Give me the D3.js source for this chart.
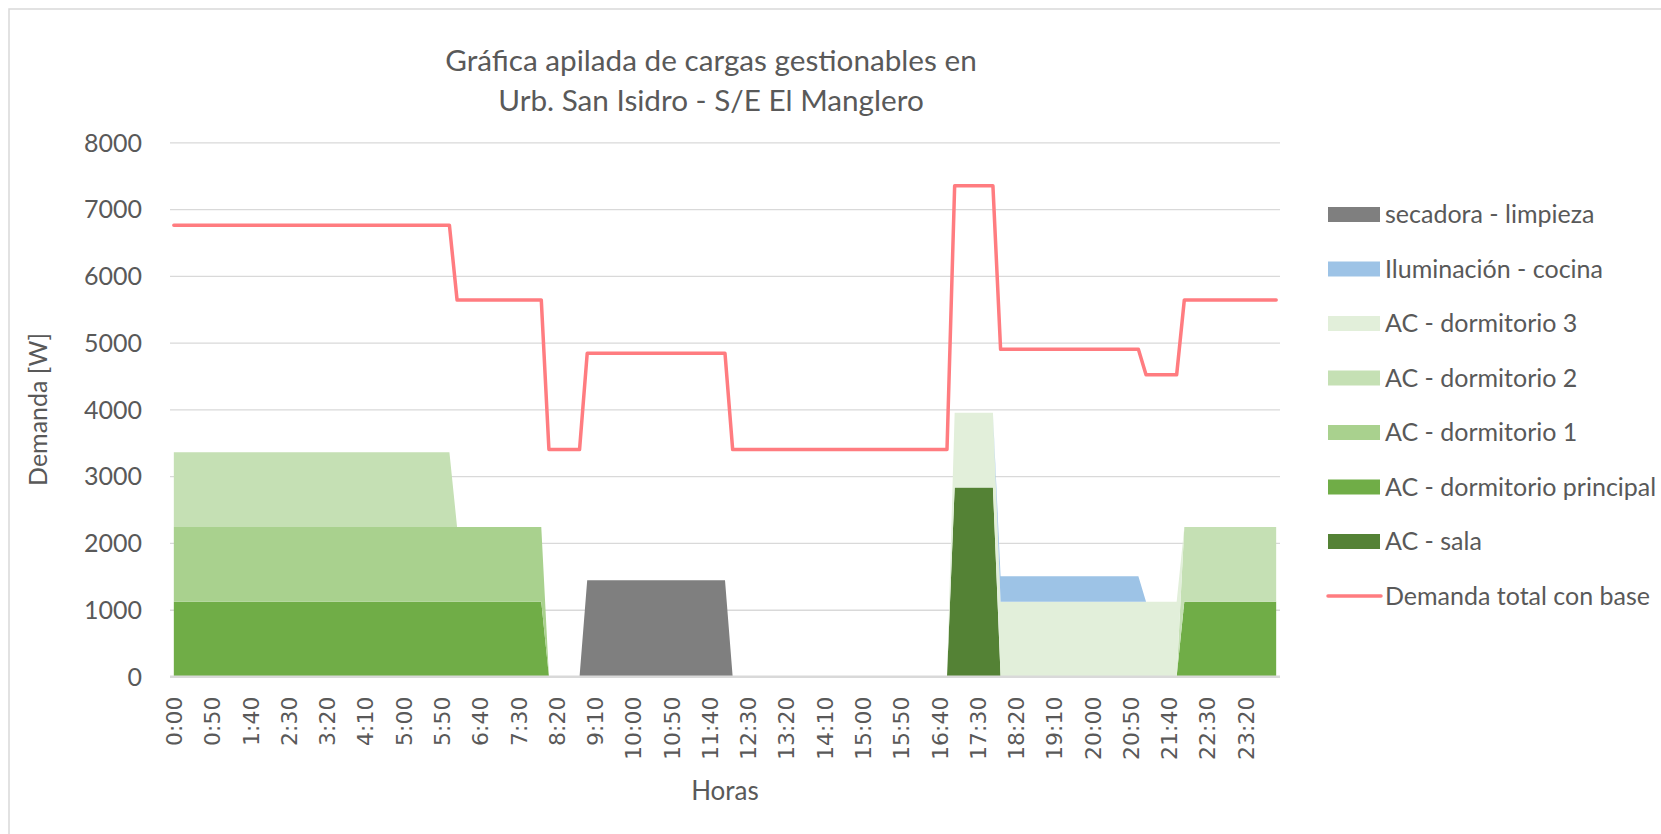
<!DOCTYPE html>
<html>
<head>
<meta charset="utf-8">
<script src="https://cdn.jsdelivr.net/npm/d3@7"></script>
<style>
  body { margin: 0; background: #fff; }
  svg text { font-family: Lato, "Open Sans", sans-serif; fill: #595959; }
  svg .xlab text { font-family: "DejaVu Sans", sans-serif; }
</style>
</head>
<body>
<svg width="1661" height="834"></svg>
<script>
// each series as runs: [number of 10-minute intervals, demand in W], from 0:00 to 24:00 (145 points)
var acSala              = [[102, 0], [6, 2830], [37, 0]];
var acPrincipal         = [[49, 1120], [83, 0], [13, 1120]];
var acDormitorio1       = [[49, 1120], [96, 0]];
var acDormitorio2       = [[37, 1120], [95, 0], [13, 1120]];
var acDormitorio3       = [[102, 0], [30, 1120], [13, 0]];
var iluminacionCocina   = [[108, 0], [19, 380], [18, 0]];
var secadoraLimpieza    = [[54, 0], [19, 1440], [72, 0]];
var demandaTotal        = [[37, 6760], [12, 5640], [5, 3400], [19, 4840], [29, 3400],
                           [6, 7350], [19, 4900], [5, 4520], [13, 5640]];

var yTicks = [0, 1000, 2000, 3000, 4000, 5000, 6000, 7000, 8000];

// stacking order bottom -> top
var keys = ["sala", "principal", "dorm1", "dorm2", "dorm3", "ilum", "secadora"];
var names = {
  sala: "AC - sala",
  principal: "AC - dormitorio principal",
  dorm1: "AC - dormitorio 1",
  dorm2: "AC - dormitorio 2",
  dorm3: "AC - dormitorio 3",
  ilum: "Iluminación - cocina",
  secadora: "secadora - limpieza"
};
var colors = {
  sala: "#548235",
  principal: "#70AD47",
  dorm1: "#A9D18E",
  dorm2: "#C5E0B4",
  dorm3: "#E2EFDA",
  ilum: "#9DC3E6",
  secadora: "#7F7F7F"
};
var lineColor = "#FF7C80";

function expand(runs) {
  var out = [];
  runs.forEach(function(r) {
    for (var k = 0; k < r[0]; k++) out.push(r[1]);
  });
  return out;
}

var seriesValues = {
  sala: expand(acSala),
  principal: expand(acPrincipal),
  dorm1: expand(acDormitorio1),
  dorm2: expand(acDormitorio2),
  dorm3: expand(acDormitorio3),
  ilum: expand(iluminacionCocina),
  secadora: expand(secadoraLimpieza)
};
var total = expand(demandaTotal);

var horas = d3.range(total.length).map(function(i) {
  var m = i * 10;
  return Math.floor(m / 60) + ":" + d3.format("02")(m % 60);
});
var tickLabels = horas.filter(function(h, i) { return i % 5 === 0; });

var rows = horas.map(function(h, i) {
  var row = { hora: h, total: total[i] };
  keys.forEach(function(k) { row[k] = seriesValues[k][i]; });
  return row;
});

var svg = d3.select("svg");

// chart frame
svg.append("rect")
    .attr("x", 9).attr("y", 9)
    .attr("width", 1700).attr("height", 900)
    .attr("fill", "none")
    .attr("stroke", "#D9D9D9")
    .attr("stroke-width", 1.5);

var plotLeft = 170, plotRight = 1280, plotTop = 142.4, plotBottom = 676.5;

var x = d3.scalePoint()
    .domain(horas)
    .range([plotLeft, plotRight])
    .padding(0.5);

var y = d3.scaleLinear()
    .domain([0, 8000])
    .range([plotBottom, plotTop]);

// gridlines
svg.append("g")
    .attr("class", "grid")
    .attr("transform", "translate(" + plotLeft + ",0)")
    .call(d3.axisLeft(y).tickValues(yTicks).tickSize(-(plotRight - plotLeft)).tickFormat(""))
    .call(function(g) { g.select(".domain").remove(); })
    .selectAll("line")
      .attr("stroke", "#D9D9D9")
      .attr("stroke-width", function(d) { return d === 0 ? 2 : 1.3; });

// stacked areas
var stacked = d3.stack().keys(keys)(rows);

var area = d3.area()
    .x(function(d) { return x(d.data.hora); })
    .y0(function(d) { return y(d[0]); })
    .y1(function(d) { return y(d[1]); });

svg.append("g")
    .attr("class", "areas")
  .selectAll("path")
  .data(stacked)
  .enter().append("path")
    .attr("fill", function(d) { return colors[d.key]; })
    .attr("d", area);

// zero line on top of areas
svg.append("line")
    .attr("x1", plotLeft).attr("x2", plotRight)
    .attr("y1", y(0)).attr("y2", y(0))
    .attr("stroke", "#D9D9D9")
    .attr("stroke-width", 2);

// total demand line
var line = d3.line()
    .x(function(d) { return x(d.hora); })
    .y(function(d) { return y(d.total); });

svg.append("path")
    .datum(rows)
    .attr("fill", "none")
    .attr("stroke", lineColor)
    .attr("stroke-width", 3.5)
    .attr("stroke-linejoin", "round")
    .attr("stroke-linecap", "round")
    .attr("d", line);

// y axis
var yAxis = svg.append("g")
    .attr("transform", "translate(" + plotLeft + ",0)")
    .call(d3.axisLeft(y).tickValues(yTicks).tickSize(0).tickPadding(28).tickFormat(d3.format("d")));
yAxis.select(".domain").remove();
yAxis.selectAll("text")
    .style("font-size", "25px")
    .attr("dy", "0.35em");

// x axis
var xAxis = svg.append("g")
    .attr("class", "xlab")
    .attr("transform", "translate(0," + plotBottom + ")")
    .call(d3.axisBottom(x).tickValues(tickLabels).tickSize(0));
xAxis.select(".domain").remove();
xAxis.selectAll("text")
    .attr("transform", "rotate(-90)")
    .attr("text-anchor", "end")
    .attr("x", -20)
    .attr("y", 0)
    .attr("dy", "0.35em")
    .style("font-family", "DejaVu Sans")
    .style("font-size", "22px");

// titles
var title = svg.append("text")
    .attr("text-anchor", "middle")
    .style("font-size", "29.7px");
title.append("tspan").attr("x", 711).attr("y", 71).text("Gráfica apilada de cargas gestionables en");
title.append("tspan").attr("x", 711).attr("y", 111).text("Urb. San Isidro - S/E El Manglero");

svg.append("text")
    .attr("x", (plotLeft + plotRight) / 2)
    .attr("y", 800)
    .attr("text-anchor", "middle")
    .style("font-size", "26px")
    .text("Horas");

svg.append("text")
    .attr("transform", "translate(38," + (plotTop + plotBottom) / 2 + ") rotate(-90)")
    .attr("text-anchor", "middle")
    .attr("dy", "0.35em")
    .style("font-size", "25px")
    .text("Demanda [W]");

// legend (top of stack first)
var legendItems = keys.slice().reverse();
var legend = svg.append("g")
    .attr("class", "legend")
  .selectAll("g")
  .data(legendItems.concat(["total"]))
  .enter().append("g")
    .attr("transform", function(d, i) { return "translate(1328," + (214.5 + i * 54.5) + ")"; });

legend.filter(function(d) { return d !== "total"; })
  .append("rect")
    .attr("x", 0).attr("y", -7.5)
    .attr("width", 52).attr("height", 15)
    .attr("fill", function(d) { return colors[d]; });

legend.filter(function(d) { return d === "total"; })
  .append("line")
    .attr("x1", 0).attr("x2", 53)
    .attr("stroke", lineColor)
    .attr("stroke-width", 3.5)
    .attr("stroke-linecap", "round");

legend.append("text")
    .attr("x", 57)
    .attr("dy", "0.35em")
    .style("font-size", "25px")
    .text(function(d) { return d === "total" ? "Demanda total con base" : names[d]; });
</script>
</body>
</html>
